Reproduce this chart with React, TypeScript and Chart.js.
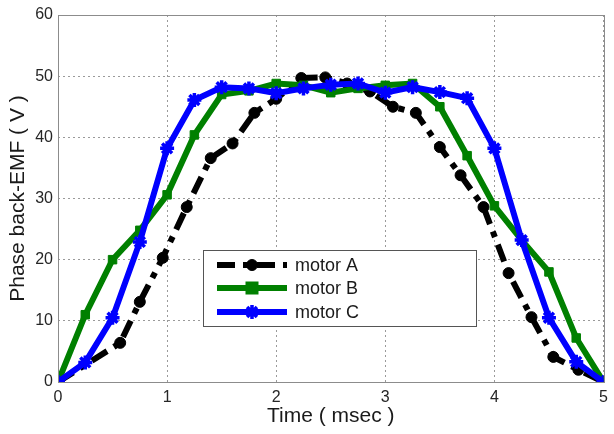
import React, { useEffect, useRef } from "react";
import { Chart, registerables } from "chart.js";

Chart.register(...registerables);

const timeA = [0, 0.57, 0.75, 0.96, 1.18, 1.4, 1.6, 1.8, 2.0, 2.23, 2.45, 2.65, 2.86, 3.07, 3.28, 3.5, 3.69, 3.9, 4.13, 4.34, 4.54, 4.77, 5.0];
const motorA = [0, 6.4, 13.1, 20.3, 28.6, 36.6, 39, 44, 46.3, 49.7, 49.8, 48.8, 47.5, 45, 44, 38.4, 33.8, 28.6, 17.8, 10.6, 4.1, 2, 0];

const timeBC = [0, 0.25, 0.5, 0.75, 1.0, 1.25, 1.5, 1.75, 2.0, 2.25, 2.5, 2.75, 3.0, 3.25, 3.5, 3.75, 4.0, 4.25, 4.5, 4.75, 5.0];
const motorB = [0, 11, 20, 24.8, 30.6, 40.4, 47, 47.6, 48.8, 48.5, 47.3, 48, 48.5, 48.8, 45, 37, 28.8, 23.2, 18, 7.2, 0];
const motorC = [0, 3.2, 10.5, 22.9, 38.2, 46.1, 48.2, 48, 47.2, 48, 48.6, 48.8, 47.3, 48.2, 47.4, 46.4, 38.2, 23.2, 10.5, 3.3, 0];

const seriesNames = ["motor A", "motor B", "motor C"];
const xTicks = [0, 1, 2, 3, 4, 5];
const yTicks = [0, 10, 20, 30, 40, 50, 60];

const FONT = "'Liberation Sans', Arial, sans-serif";

const framePlugin = {
  id: "frame",
  afterDraw(chart: any) {
    const { ctx, chartArea: a } = chart;
    ctx.save();
    ctx.strokeStyle = "#8c8c8c";
    ctx.lineWidth = 1;
    ctx.strokeRect(Math.round(a.left) + 0.5, Math.round(a.top) + 0.5, Math.round(a.right - a.left), Math.round(a.bottom - a.top));
    ctx.restore();
  },
};

const legendPlugin = {
  id: "boxLegend",
  afterDraw(chart: any) {
    const { ctx } = chart;
    const bx = 203.5, by = 250.5, bw = 273, bh = 76;
    ctx.save();
    ctx.fillStyle = "#ffffff";
    ctx.fillRect(bx, by, bw, bh);
    ctx.strokeStyle = "#555555";
    ctx.lineWidth = 1;
    ctx.strokeRect(bx, by, bw, bh);
    const rows = [265, 288, 312];
    chart.data.datasets.forEach((ds: any, i: number) => {
      const y = rows[i];
      ctx.save();
      ctx.strokeStyle = ds.borderColor;
      ctx.lineWidth = ds.borderWidth;
      ctx.setLineDash(ds.borderDash || []);
      ctx.lineCap = "butt";
      ctx.beginPath();
      ctx.moveTo(217, y);
      ctx.lineTo(287, y);
      ctx.stroke();
      ctx.restore();
      ctx.save();
      ctx.fillStyle = ds.pointBackgroundColor;
      ctx.strokeStyle = ds.pointBorderColor;
      ctx.lineWidth = ds.pointBorderWidth;
      (Chart as any).helpers?.drawPoint
        ? (Chart as any).helpers.drawPoint(ctx, { pointStyle: ds.pointStyle, radius: ds.pointRadius, borderWidth: ds.pointBorderWidth }, 252, y)
        : null;
      ctx.restore();
      ctx.fillStyle = "#1a1a1a";
      ctx.font = `18px ${FONT}`;
      ctx.textBaseline = "middle";
      ctx.textAlign = "left";
      ctx.fillText(seriesNames[i], 295, y + 1);
    });
    ctx.restore();
  },
};

function drawMarker(ctx: CanvasRenderingContext2D, style: string, r: number, x: number, y: number) {
  ctx.beginPath();
  if (style === "circle") {
    ctx.arc(x, y, r, 0, Math.PI * 2);
    ctx.fill();
    ctx.stroke();
  } else if (style === "rect") {
    ctx.fillRect(x - r, y - r, 2 * r, 2 * r);
    ctx.strokeRect(x - r, y - r, 2 * r, 2 * r);
  } else {
    for (let k = 0; k < 4; k++) {
      const ang = (k * Math.PI) / 4;
      ctx.moveTo(x + Math.cos(ang) * r, y + Math.sin(ang) * r);
      ctx.lineTo(x - Math.cos(ang) * r, y - Math.sin(ang) * r);
    }
    ctx.stroke();
  }
}

const legendMarkerPlugin = {
  id: "legendMarkers",
  afterDraw(chart: any) {
    const { ctx } = chart;
    const rows = [265, 288, 312];
    chart.data.datasets.forEach((ds: any, i: number) => {
      ctx.save();
      ctx.fillStyle = ds.pointBackgroundColor;
      ctx.strokeStyle = ds.pointBorderColor;
      ctx.lineWidth = ds.pointBorderWidth;
      drawMarker(ctx, ds.pointStyle, ds.pointRadius, 252, rows[i]);
      ctx.restore();
    });
  },
};

export default function App() {
  const ref = useRef<HTMLCanvasElement>(null);
  useEffect(() => {
    if (!ref.current) return;
    const chart = new Chart(ref.current, {
      type: "line",
      data: {
        datasets: [
          {
            label: seriesNames[0],
            data: timeA.map((t, i) => ({ x: t, y: motorA[i] })),
            borderColor: "#000000",
            backgroundColor: "#000000",
            borderWidth: 6,
            borderDash: [18, 8, 6, 8],
            pointStyle: "circle",
            pointRadius: 5.5,
            pointBackgroundColor: "#000000",
            pointBorderColor: "#000000",
            pointBorderWidth: 1,
            order: 3,
          },
          {
            label: seriesNames[1],
            data: timeBC.map((t, i) => ({ x: t, y: motorB[i] })),
            borderColor: "#008000",
            backgroundColor: "#008000",
            borderWidth: 6,
            pointStyle: "rect",
            pointRadius: 6,
            pointBackgroundColor: "#008000",
            pointBorderColor: "#008000",
            pointBorderWidth: 1,
            order: 2,
          },
          {
            label: seriesNames[2],
            data: timeBC.map((t, i) => ({ x: t, y: motorC[i] })),
            borderColor: "#0000ff",
            backgroundColor: "#0000ff",
            borderWidth: 6,
            pointStyle: "star",
            pointRadius: 7,
            pointBackgroundColor: "#0000ff",
            pointBorderColor: "#0000ff",
            pointBorderWidth: 3.5,
            order: 1,
          },
        ],
      },
      options: {
        responsive: false,
        animation: false,
        layout: { padding: { left: 0, right: 6, top: 15, bottom: 0 } },
        plugins: { legend: { display: false }, tooltip: { enabled: false } },
        elements: { line: { tension: 0 } },
        scales: {
          x: {
            type: "linear",
            min: 0,
            max: 5,
            afterBuildTicks: (s: any) => {
              s.ticks = xTicks.map((v) => ({ value: v }));
            },
            afterFit: (s: any) => {
              s.height = 52;
            },
            grid: { color: "#9a9a9a", lineWidth: 1, drawTicks: false },
            border: { display: false, dash: [2, 3] },
            ticks: { color: "#262626", font: { size: 16, family: FONT }, padding: 6, maxRotation: 0 },
            title: { display: true, text: "Time ( msec )", color: "#1a1a1a", font: { size: 21, family: FONT }, padding: { top: 0, bottom: 5 } },
          },
          y: {
            type: "linear",
            min: 0,
            max: 60,
            afterBuildTicks: (s: any) => {
              s.ticks = yTicks.map((v) => ({ value: v }));
            },
            afterFit: (s: any) => {
              s.width = 58;
            },
            grid: { color: "#9a9a9a", lineWidth: 1, drawTicks: false },
            border: { display: false, dash: [2, 3] },
            ticks: { color: "#262626", font: { size: 16, family: FONT }, padding: 5 },
            title: { display: true, text: "Phase back-EMF ( V )", color: "#1a1a1a", font: { size: 21, family: FONT }, padding: { top: 6, bottom: 0 } },
          },
        },
      },
      plugins: [framePlugin, legendPlugin, legendMarkerPlugin],
    } as any);
    return () => chart.destroy();
  }, []);
  return (
    <div style={{ position: "fixed", left: 0, top: 0, width: 614, height: 434, background: "#fff" }}>
      <canvas ref={ref} width={614} height={434} style={{ width: 614, height: 434 }} />
    </div>
  );
}
